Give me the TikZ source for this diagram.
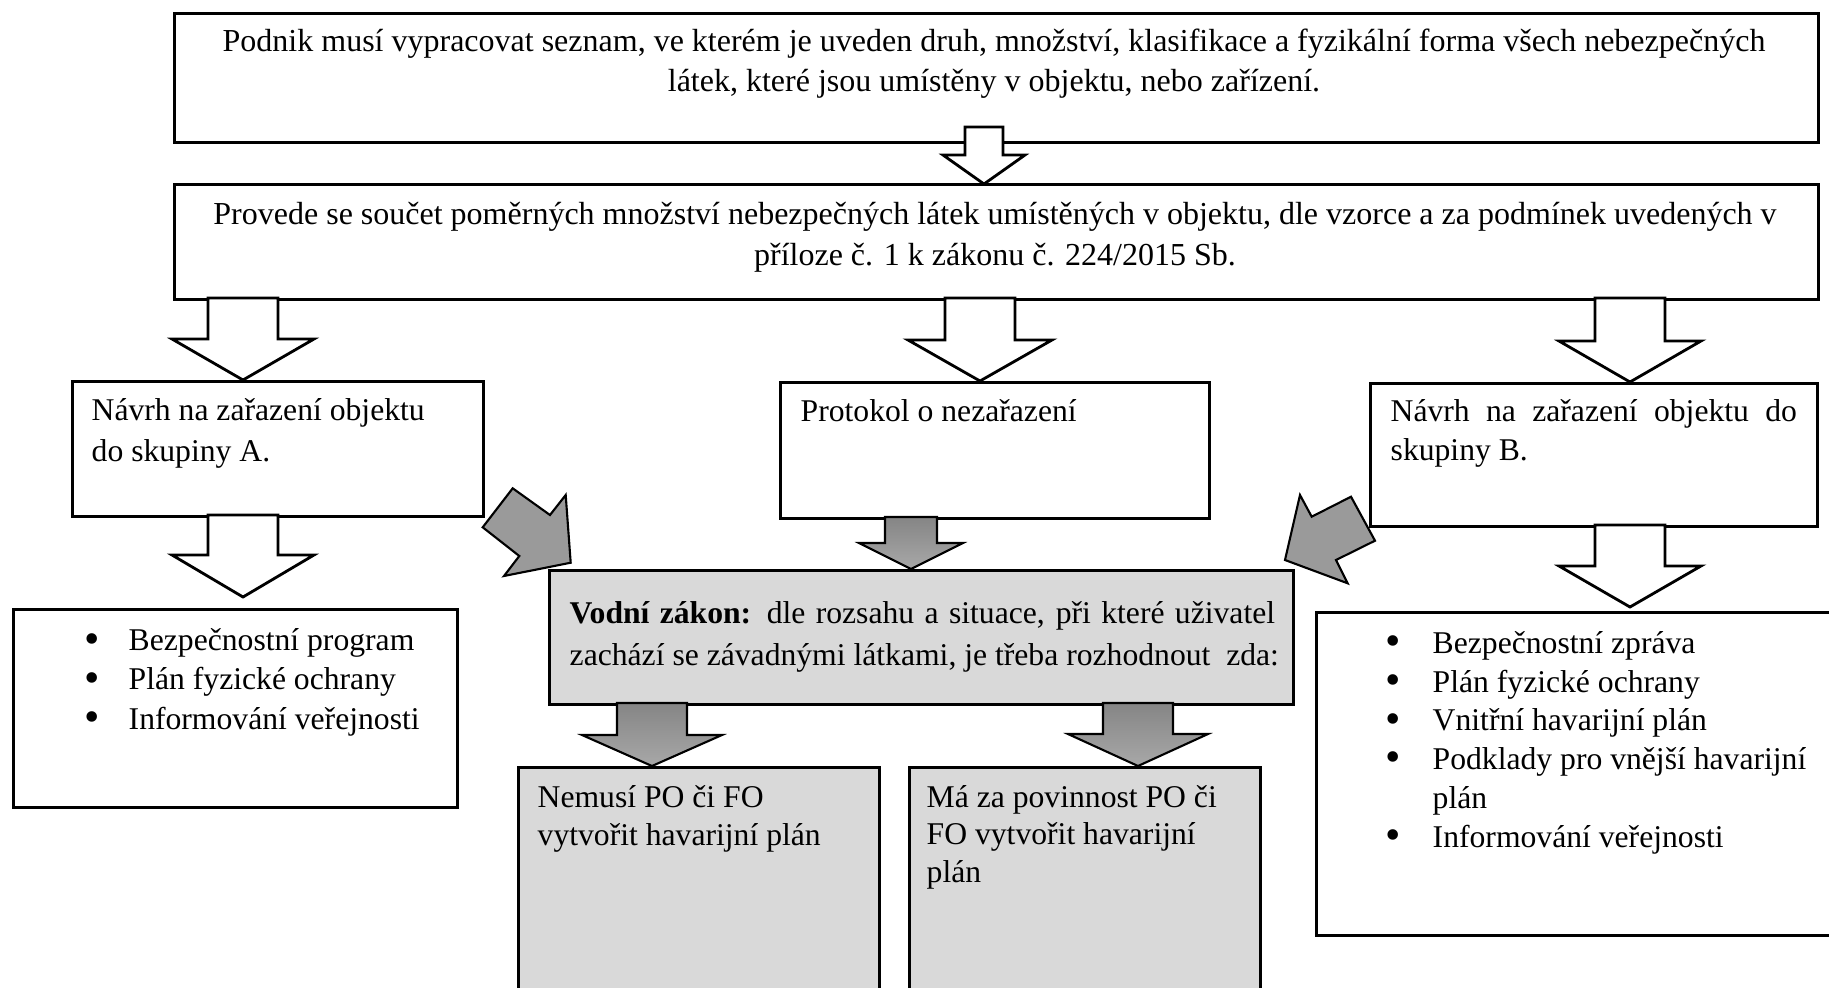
\documentclass[tikz,border=0pt]{standalone}
\usepackage{fontspec}
\setmainfont{Liberation Serif}
\usetikzlibrary{calc}
\definecolor{boxgray}{HTML}{D9D9D9}
\definecolor{diaggray}{HTML}{9A9A9A}
\definecolor{gradtop}{HTML}{858585}
\definecolor{gradbot}{HTML}{A8A8A8}
% #1 style, #2 shaft start, #3 tip, #4 shaft half width, #5 head half width, #6 head length
\newcommand\blockdown[6]{%
  \draw[#1] ($(#2)+(-#4,0)$) -- ($(#2)+(#4,0)$) -- ($(#3)+(#4,-#6)$) -- ($(#3)+(#5,-#6)$)
    -- (#3) -- ($(#3)+(-#5,-#6)$) -- ($(#3)+(-#4,-#6)$) -- cycle;}
\tikzset{
  box/.style={draw=black, line width=0.85pt, fill=white, inner sep=0pt, anchor=north west},
  graybox/.style={box, fill=boxgray},
  txt/.style={inner sep=0pt, align=left, anchor=base west, font=\fontsize{9}{11.2}\selectfont},
  whitearrow/.style={draw=black, fill=white, line width=0.8pt, line join=miter},
  grayarrow/.style={draw=black, line width=0.6pt, top color=gradtop, bottom color=gradbot},
  diagarrow/.style={draw=black, fill=diaggray, line width=0.6pt, line join=miter}
}
\newcommand\bul[1]{\makebox[#1][l]{\raisebox{-0.6pt}{\fontsize{12.5}{12}\selectfont •}}}
\begin{document}
\begin{tikzpicture}[x=0.01cm,y=-0.01cm]
\useasboundingbox (0,0) rectangle (1829,987);
% boxes
\node[box, minimum width=16.43cm, minimum height=1.29cm] (top) at (173,12) {};
\node[box, minimum width=16.43cm, minimum height=1.15cm] (sum) at (173,183) {};
\node[box, minimum width=4.11cm, minimum height=1.35cm] (grpA) at (71,380) {};
\node[box, minimum width=4.29cm, minimum height=1.36cm] (prot) at (779,381) {};
\node[box, minimum width=4.47cm, minimum height=1.43cm] (grpB) at (1369,382) {};
\node[box, minimum width=4.44cm, minimum height=1.98cm] (listA) at (12,608) {};
\node[box, minimum width=5.40cm, minimum height=3.23cm] (listB) at (1315,611) {};
\node[graybox, minimum width=7.44cm, minimum height=1.34cm] (vodni) at (548,569) {};
\node[graybox, minimum width=3.61cm, minimum height=2.60cm] (nem) at (517,766) {};
\node[graybox, minimum width=3.51cm, minimum height=2.60cm] (ma) at (908,766) {};
% arrow coordinates
\coordinate (a1s) at (984,127);  \coordinate (a1t) at (984,184);
\coordinate (aLs) at (243,298);  \coordinate (aLt) at (243,380);
\coordinate (aMs) at (980,298);  \coordinate (aMt) at (980,381);
\coordinate (aRs) at (1630,298); \coordinate (aRt) at (1630,382);
\coordinate (aAs) at (243,515);  \coordinate (aAt) at (243,597);
\coordinate (aBs) at (1630,525); \coordinate (aBt) at (1630,607);
\coordinate (gPs) at (911,517);  \coordinate (gPt) at (911,569);
\coordinate (gNs) at (652,703);  \coordinate (gNt) at (652,766);
\coordinate (gMs) at (1138,703); \coordinate (gMt) at (1138,766);
% white block arrows
\blockdown{whitearrow}{a1s}{a1t}{19}{41}{29}
\blockdown{whitearrow}{aLs}{aLt}{35}{71}{41}
\blockdown{whitearrow}{aMs}{aMt}{35}{72}{41}
\blockdown{whitearrow}{aRs}{aRt}{35}{71}{41}
\blockdown{whitearrow}{aAs}{aAt}{35}{71}{42}
\blockdown{whitearrow}{aBs}{aBt}{35}{71}{41}
% gray block arrows
\blockdown{grayarrow}{gPs}{gPt}{26}{52}{26}
\blockdown{grayarrow}{gNs}{gNt}{35}{70}{31}
\blockdown{grayarrow}{gMs}{gMt}{35}{70}{32}
% diagonal gray arrows
\draw[diagarrow] (512.7,488.3) -- (550,515) -- (565.7,495) -- (570.7,562.7)
  -- (504,576) -- (519.3,556) -- (482.7,527.3) -- cycle;
\draw[diagarrow] (1351,496.7) -- (1375,540.7) -- (1336,560) -- (1347.7,583.3)
  -- (1285,560) -- (1300,495) -- (1311.7,516.7) -- cycle;
% texts (base anchor = baseline of the last line)
\node[txt, anchor=base, align=center, font=\fontsize{9.1}{11.2}\selectfont] (topT) at (994,91)
  {Podnik musí vypracovat seznam, ve kterém je uveden druh, množství, klasifikace a fyzikální forma všech nebezpečných\\
   látek, které jsou umístěny v objektu, nebo zařízení.};
\node[txt, anchor=base, align=center, font=\fontsize{9.1}{11.6}\selectfont] (sumT) at (995,265)
  {Provede se součet poměrných množství nebezpečných látek umístěných v objektu, dle vzorce a za podmínek uvedených v\\
   příloze č. 1 k zákonu č. 224/2015 Sb.};
\node[txt, font=\fontsize{9}{11.6}\selectfont] (grpAT) at (91,461) {Návrh na zařazení objektu\\do skupiny A.};
\node[txt] (protT) at (800,421) {Protokol o nezařazení};
\node[txt, font=\fontsize{9}{10.9}\selectfont] (grpBT) at (1390,460)
  {\makebox[4.06cm][s]{Návrh na zařazení objektu do}\\skupiny B.};
\node[txt, font=\fontsize{9}{11.1}\selectfont] (listAT) at (84,729)
  {\bul{0.44cm}Bezpečnostní program\\\bul{0.44cm}Plán fyzické ochrany\\\bul{0.44cm}Informování veřejnosti};
\node[txt, font=\fontsize{9}{11.0}\selectfont] (listBT) at (1385,847)
  {\bul{0.47cm}Bezpečnostní zpráva\\
   \bul{0.47cm}Plán fyzické ochrany\\
   \bul{0.47cm}Vnitřní havarijní plán\\
   \bul{0.47cm}Podklady pro vnější havarijní\\
   \hspace*{0.47cm}plán\\
   \bul{0.47cm}Informování veřejnosti};
\node[txt, font=\fontsize{9}{11.9}\selectfont] (vodniT) at (569,665)
  {\makebox[7.05cm][s]{\textbf{Vodní zákon:} dle rozsahu a situace, při které uživatel}\\
   zachází se závadnými látkami, je třeba rozhodnout\ \ zda:};
\node[txt, font=\fontsize{9}{10.6}\selectfont] (nemT) at (537,845) {Nemusí PO či FO\\vytvořit havarijní plán};
\node[txt, font=\fontsize{9}{10.6}\selectfont] (maT) at (926,882) {Má za povinnost PO či\\FO vytvořit havarijní\\plán};
\end{tikzpicture}
\end{document}
